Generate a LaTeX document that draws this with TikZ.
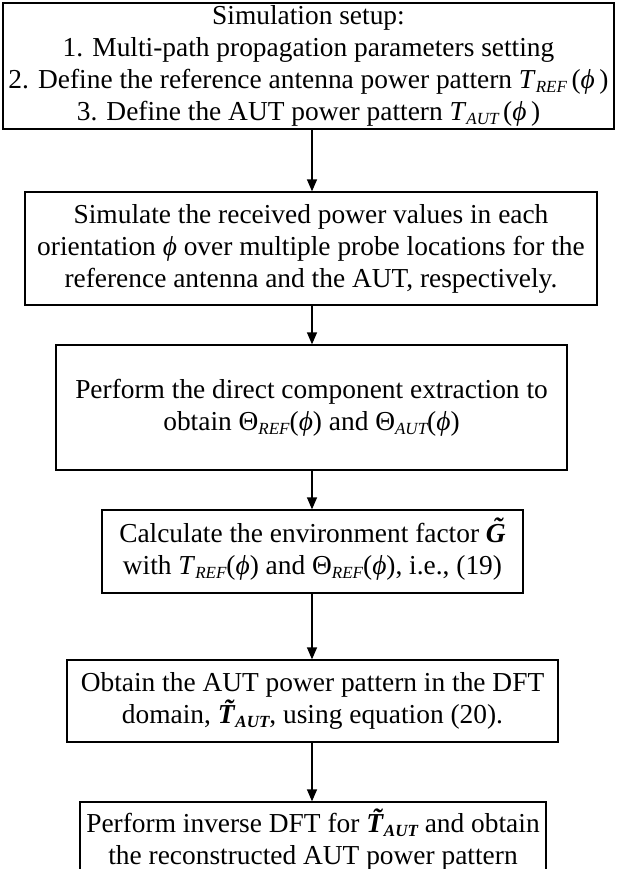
\documentclass[tikz,border=0pt]{standalone}
\usepackage{fontspec}
\setmainfont{Liberation Serif}
\usetikzlibrary{arrows.meta}
\newcommand\sbs[1]{\raisebox{-0.32ex}{\fontsize{17}{17}\selectfont\itshape #1}}
\newcommand\ph{\textit{ϕ}}
\newcommand\tl[1]{{\ooalign{\textbf{\textit{#1}}\cr\hidewidth\kern0.18em\raisebox{0.2em}{\textbf{\textit{˜}}}\hidewidth\cr}}}
\tikzset{
  box/.style={draw, line width=1.3pt, align=center, inner sep=0pt, font=\fontsize{27.4}{32}\selectfont},
  flow/.style={-{Triangle[length=12pt,width=10pt]}, line width=1.3pt}
}
\begin{document}
\begin{tikzpicture}[x=1pt,y=-1pt]
\useasboundingbox (0,0) rectangle (618,869);
\clip (0,0) rectangle (618,869);
\node[box, minimum width=611pt, minimum height=126pt] (b1) at (308.5,66)
  {Simulation setup:\\1. Multi-path propagation parameters setting\\2. Define the reference antenna power pattern \textit{T}\sbs{REF}\,(\ph\,)\\3. Define the AUT power pattern \textit{T}\sbs{AUT}\,(\ph\,)};
\node[box, minimum width=572pt, minimum height=113pt] (b2) at (311,248.5)
  {Simulate the received power values in each\\orientation \ph\ over multiple probe locations for the\\reference antenna and the AUT, respectively.};
\node[box, minimum width=511pt, minimum height=125pt] (b3) at (311.5,407.5)
  {Perform the direct component extraction to\\obtain Θ\sbs{REF}(\ph) and Θ\sbs{AUT}(\ph)};
\node[box, minimum width=421pt, minimum height=83pt] (b4) at (312.5,551.5)
  {Calculate the environment factor \tl{G}\\with \textit{T}\sbs{REF}(\ph) and Θ\sbs{REF}(\ph), i.e., (19)};
\node[box, minimum width=491pt, minimum height=82pt] (b5) at (312.5,701)
  {Obtain the AUT power pattern in the DFT\\domain, \tl{T}\sbs{\textbf{AUT}}, using equation (20).};
\node[box, minimum width=466pt, minimum height=80pt] (b6) at (313,842)
  {Perform inverse DFT for \tl{T}\sbs{\textbf{AUT}} and obtain\\the reconstructed AUT power pattern};
\draw[flow] (b1.south -| 312,0) -- (b2.north -| 312,0);
\draw[flow] (b2.south -| 312,0) -- (b3.north -| 312,0);
\draw[flow] (b3.south -| 312,0) -- (b4.north -| 312,0);
\draw[flow] (b4.south -| 312,0) -- (b5.north -| 312,0);
\draw[flow] (b5.south -| 312,0) -- (b6.north -| 312,0);
\end{tikzpicture}
\end{document}
